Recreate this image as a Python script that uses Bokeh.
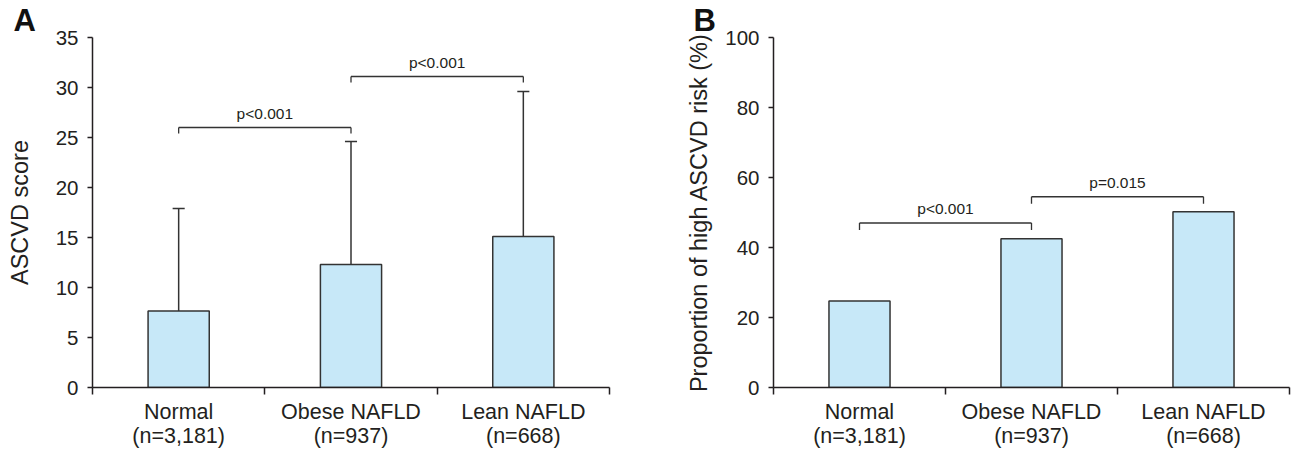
from bokeh.plotting import figure
from bokeh.layouts import row
from bokeh.models import FixedTicker, Range1d, ColumnDataSource
from bokeh.embed import file_html
from bokeh.resources import INLINE
from bokeh.core.properties import value

# ---------------- data ----------------
categories = ["Normal", "Obese NAFLD", "Lean NAFLD"]
group_n = ["(n=3,181)", "(n=937)", "(n=668)"]

ascvd_mean = [7.65, 12.3, 15.1]
ascvd_upper = [17.9, 24.6, 29.6]          # mean + SD (top of error bar)

high_risk_pct = [24.7, 42.5, 50.2]

a_brackets_from = [0, 1]
a_brackets_to = [1, 2]
a_brackets_y = [26.0, 31.1]
a_brackets_text = ["p<0.001", "p<0.001"]

b_brackets_from = [0, 1]
b_brackets_to = [1, 2]
b_brackets_y = [47.0, 54.5]
b_brackets_text = ["p<0.001", "p=0.015"]

FONT = "Liberation Sans"
INK = "#231f20"
BAR_FILL = "#c7e8f8"
BAR_LINE = "#333333"


def make_panel(width, border_left, border_right, ymax, ystep, means, upper,
               bf, bt, by, btxt, leg, ylabel, letter, label_standoff,
               letter_offset):
    p = figure(width=width, height=450,
               x_range=Range1d(0, 3), y_range=Range1d(0, ymax),
               output_backend="svg", toolbar_location=None,
               min_border_left=border_left, min_border_right=border_right,
               min_border_top=36, min_border_bottom=62)
    p.outline_line_color = None
    p.grid.visible = False
    p.background_fill_color = "white"
    p.border_fill_color = "white"

    # panel letter as title
    p.title.text = letter
    p.title.align = "left"
    p.title.offset = letter_offset
    p.title.standoff = 0
    p.title.text_font = FONT
    p.title.text_font_size = "31px"
    p.title.text_font_style = "bold"
    p.title.text_color = "#111111"

    xs = [i + 0.5 for i in range(len(categories))]
    src = ColumnDataSource(dict(x=xs, top=means))
    p.vbar(x="x", top="top", bottom=0, width=0.355, source=src,
           fill_color=BAR_FILL, line_color=BAR_LINE, line_width=1.5)

    if upper is not None:
        esrc = ColumnDataSource(dict(x=xs, y0=means, y1=upper))
        p.segment(x0="x", y0="y0", x1="x", y1="y1", source=esrc,
                  line_color=BAR_LINE, line_width=1.5)
        p.segment(x0=[x - 0.035 for x in xs], y0=upper,
                  x1=[x + 0.035 for x in xs], y1=upper,
                  line_color=BAR_LINE, line_width=1.5)

    # significance brackets
    x0 = [xs[i] for i in bf]
    x1 = [xs[i] for i in bt]
    p.segment(x0=x0, y0=by, x1=x1, y1=by, line_color=BAR_LINE, line_width=1.3)
    p.segment(x0=x0, y0=by, x1=x0, y1=[y - leg for y in by],
              line_color=BAR_LINE, line_width=1.3)
    p.segment(x0=x1, y0=by, x1=x1, y1=[y - leg for y in by],
              line_color=BAR_LINE, line_width=1.3)
    p.text(x=[(a + b) / 2 for a, b in zip(x0, x1)], y=by, text=btxt,
           text_align="center", text_baseline="bottom", y_offset=-6,
           text_font=value(FONT), text_font_size="15.5px", text_color=INK)

    # x axis: boundary ticks as minor ticks, labels at centres
    xa = p.xaxis[0]
    xa.ticker = FixedTicker(ticks=xs, minor_ticks=[0, 1, 2, 3])
    xa.major_label_overrides = {x: f"{c}\n{n}" for x, c, n in zip(xs, categories, group_n)}
    xa.major_tick_out = 0
    xa.major_tick_in = 0
    xa.minor_tick_out = 7
    xa.minor_tick_in = 0
    xa.minor_tick_line_color = INK
    xa.minor_tick_line_width = 1.5
    xa.axis_line_color = INK
    xa.axis_line_width = 1.5
    xa.major_label_standoff = 5
    xa.major_label_text_font = FONT
    xa.major_label_text_font_size = "21.5px"
    xa.major_label_text_color = INK
    xa.major_label_text_line_height = 1.0

    ya = p.yaxis[0]
    ya.ticker = FixedTicker(ticks=list(range(0, ymax + 1, ystep)))
    ya.major_tick_out = 5
    ya.major_tick_in = 0
    ya.minor_tick_line_color = None
    ya.major_tick_line_color = INK
    ya.major_tick_line_width = 1.5
    ya.axis_line_color = INK
    ya.axis_line_width = 1.5
    ya.major_label_standoff = 9
    ya.major_label_text_font = FONT
    ya.major_label_text_font_size = "20.5px"
    ya.major_label_text_color = INK
    ya.axis_label = ylabel
    ya.axis_label_text_font = FONT
    ya.axis_label_text_font_size = "23.5px"
    ya.axis_label_text_font_style = "normal"
    ya.axis_label_text_color = INK
    ya.axis_label_standoff = label_standoff
    return p


pa = make_panel(640, 92, 31, 35, 5, ascvd_mean, ascvd_upper,
                a_brackets_from, a_brackets_to, a_brackets_y, a_brackets_text, 0.6,
                "ASCVD score", "A", 20, -79)
pb = make_panel(651, 133, 2, 100, 20, high_risk_pct, None,
                b_brackets_from, b_brackets_to, b_brackets_y, b_brackets_text, 2.0,
                "Proportion of high ASCVD risk (%)", "B", 10, -80)

layout = row(pa, pb)
open("out.html", "w").write(file_html(layout, INLINE))
